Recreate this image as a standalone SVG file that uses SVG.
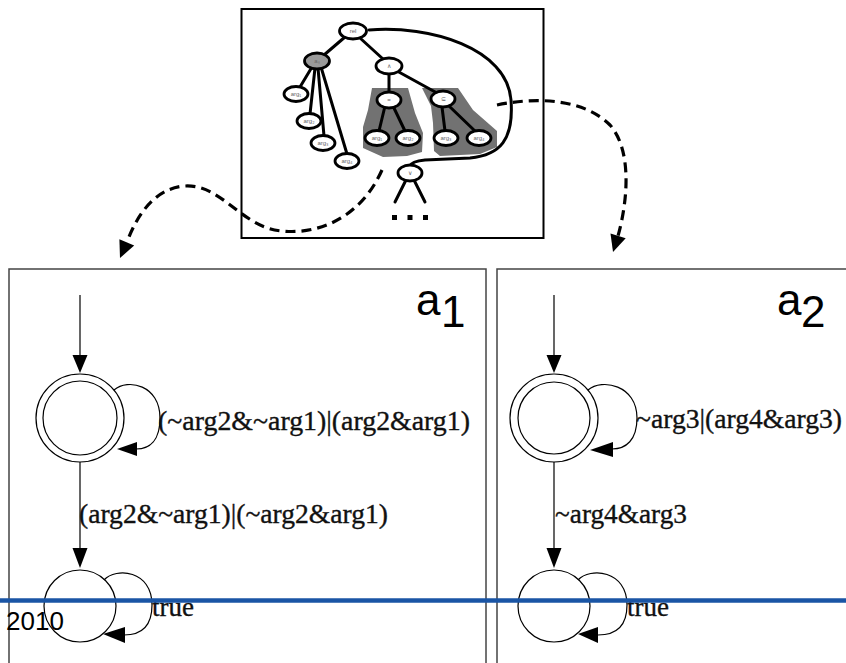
<svg xmlns="http://www.w3.org/2000/svg" width="846" height="663" viewBox="0 0 846 663">
  <style>
    .tree-edge { stroke: #000; stroke-width: 3; fill: none; stroke-linecap: round; }
    .tnode { fill: #fff; stroke: #000; stroke-width: 2.8; }
    .tnode-shade { fill: #9a9a9a; stroke: #000; stroke-width: 2.8; }
    .tlabel { font-family: "Liberation Sans", Arial, sans-serif; font-size: 6px; fill: #666; text-anchor: middle; }
    .shade { fill: #727272; }
    .dashed { stroke: #000; stroke-width: 3.2; fill: none; stroke-dasharray: 10 6; }
    .panel { fill: #fff; stroke: #444; stroke-width: 1.5; }
    .edge { stroke: #000; stroke-width: 1.2; fill: none; }
    .state { fill: #fff; stroke: #000; stroke-width: 1.2; }
    .elabel { font-family: "Liberation Serif", "Times New Roman", serif; font-size: 27px; fill: #111; stroke: #111; stroke-width: 0.35; }
    .title { font-family: "Liberation Sans", Arial, sans-serif; font-size: 44px; fill: #000; }
  </style>

  <rect width="846" height="663" fill="#fff"/>

  <!-- formula tree -->
  <g id="formula-tree">
    <rect x="241.5" y="9" width="302" height="229" fill="#fff" stroke="#000" stroke-width="2"/>
    <polygon class="shade" points="372,88 408,88 415,113 423,133 422,152 407,156 383,157 363,148 363,127 368,110"/>
    <polygon class="shade" points="422,88 458,88 473,110 497,131 497,147 480,154 440,156 434,151 433,123 431,106"/>
    <path class="tree-edge" d="M369,30 C430,25 507,48 511,100 C514,140 500,155 470,158 L425,160 C415,161 411,163 410,166"/>
    <line class="tree-edge" x1="345" y1="37" x2="324" y2="55"/>
    <line class="tree-edge" x1="360" y1="38" x2="383" y2="59"/>
    <line class="tree-edge" x1="312" y1="67" x2="300" y2="87"/>
    <line class="tree-edge" x1="315" y1="68" x2="310" y2="114"/>
    <line class="tree-edge" x1="318" y1="68" x2="324" y2="136"/>
    <line class="tree-edge" x1="321" y1="67" x2="347" y2="154"/>
    <line class="tree-edge" x1="389" y1="74" x2="389" y2="92"/>
    <line class="tree-edge" x1="397" y1="71" x2="437" y2="93"/>
    <line class="tree-edge" x1="385" y1="106" x2="379" y2="131"/>
    <line class="tree-edge" x1="393" y1="106" x2="405" y2="131"/>
    <line class="tree-edge" x1="442" y1="107" x2="445" y2="131"/>
    <line class="tree-edge" x1="449" y1="106" x2="475" y2="131"/>
    <line class="tree-edge" x1="406" y1="180" x2="395" y2="202"/>
    <line class="tree-edge" x1="414" y1="180" x2="425" y2="202"/>

    <ellipse class="tnode" cx="353" cy="31" rx="13.5" ry="8"/>
    <text class="tlabel" x="353" y="33">rel</text>
    <ellipse class="tnode-shade" cx="317" cy="61" rx="12.5" ry="8"/>
    <text class="tlabel" x="317" y="63" fill="#444">aₛ</text>
    <ellipse class="tnode" cx="389" cy="66" rx="13" ry="8"/>
    <text class="tlabel" x="389" y="68">∧</text>
    <ellipse class="tnode" cx="296" cy="94" rx="12" ry="7.5"/>
    <text class="tlabel" x="296" y="96">arg₁</text>
    <ellipse class="tnode" cx="309" cy="121" rx="12" ry="7.5"/>
    <text class="tlabel" x="309" y="123">arg₂</text>
    <ellipse class="tnode" cx="323" cy="143" rx="12" ry="7.5"/>
    <text class="tlabel" x="323" y="145">arg₃</text>
    <ellipse class="tnode" cx="347" cy="161" rx="12" ry="7.5"/>
    <text class="tlabel" x="347" y="163">arg₄</text>
    <ellipse class="tnode" cx="389" cy="100" rx="12" ry="8"/>
    <text class="tlabel" x="389" y="102">=</text>
    <ellipse class="tnode" cx="443" cy="99" rx="12" ry="8"/>
    <text class="tlabel" x="443" y="101" fill="#000">⊆</text>
    <ellipse class="tnode" cx="377" cy="138" rx="12" ry="7.5"/>
    <text class="tlabel" x="377" y="140">arg₁</text>
    <ellipse class="tnode" cx="408" cy="138" rx="12" ry="7.5"/>
    <text class="tlabel" x="408" y="140">arg₂</text>
    <ellipse class="tnode" cx="446" cy="138" rx="12" ry="7.5"/>
    <text class="tlabel" x="446" y="140">arg₃</text>
    <ellipse class="tnode" cx="479" cy="138" rx="12" ry="7.5"/>
    <text class="tlabel" x="479" y="140">arg₄</text>
    <ellipse class="tnode" cx="410" cy="173" rx="12" ry="8"/>
    <text class="tlabel" x="410" y="175">∨</text>
    <rect x="392" y="215" width="5" height="5" fill="#000"/>
    <rect x="407.5" y="215" width="5" height="5" fill="#000"/>
    <rect x="423" y="215" width="5" height="5" fill="#000"/>
  </g>

  <!-- automaton a1 -->
  <g id="automaton-a1">
    <rect class="panel" x="9" y="269" width="477" height="420"/>
    <text class="title" x="416" y="315">a</text>
    <text class="title" x="441" y="327">1</text>
    <line class="edge" x1="80" y1="295" x2="80" y2="356"/>
    <polygon points="72.5,355 87.5,355 80,373" fill="#000"/>
    <circle class="state" cx="80" cy="418" r="44"/>
    <circle class="state" cx="80" cy="418" r="37"/>
    <path class="edge" d="M114,390 C128,378 160,385 160,418 C160,440 150,449 136,449"/>
    <polygon points="137,442 137,456 117,449" fill="#000"/>
    <text class="elabel" x="158" y="430" textLength="312" lengthAdjust="spacingAndGlyphs">(~arg2&amp;~arg1)|(arg2&amp;arg1)</text>
    <line class="edge" x1="80" y1="462" x2="80" y2="550"/>
    <polygon points="72.5,548 87.5,548 80,568" fill="#000"/>
    <text class="elabel" x="79" y="523" textLength="309" lengthAdjust="spacingAndGlyphs">(arg2&amp;~arg1)|(~arg2&amp;arg1)</text>
    <circle class="state" cx="80" cy="606" r="36"/>
    <path class="edge" d="M104,580 C116,567 152,570 152,605 C152,628 140,635 124,635"/>
    <polygon points="125,627 125,643 103,634" fill="#000"/>
    <text class="elabel" x="152" y="616">true</text>
  </g>

  <!-- automaton a2 -->
  <g id="automaton-a2">
    <rect class="panel" x="497" y="269" width="360" height="420"/>
    <text class="title" x="777" y="315">a</text>
    <text class="title" x="801" y="327">2</text>
    <line class="edge" x1="554" y1="295" x2="554" y2="356"/>
    <polygon points="546.5,355 561.5,355 554,373" fill="#000"/>
    <circle class="state" cx="554" cy="418" r="44"/>
    <circle class="state" cx="554" cy="418" r="36"/>
    <path class="edge" d="M588,390 C602,378 637,385 637,418 C637,440 626,449 612,449"/>
    <polygon points="613,442 613,457 590,450" fill="#000"/>
    <text class="elabel" x="636" y="428" textLength="206" lengthAdjust="spacingAndGlyphs">~arg3|(arg4&amp;arg3)</text>
    <line class="edge" x1="554" y1="462" x2="554" y2="550"/>
    <polygon points="546.5,548 561.5,548 554,568" fill="#000"/>
    <text class="elabel" x="555" y="523" textLength="132" lengthAdjust="spacingAndGlyphs">~arg4&amp;arg3</text>
    <circle class="state" cx="554" cy="606" r="36"/>
    <path class="edge" d="M578,580 C590,567 627,570 627,605 C627,628 614,635 598,635"/>
    <polygon points="598,627 598,643 578,634" fill="#000"/>
    <text class="elabel" x="627" y="616">true</text>
  </g>

  <!-- dashed connectors from the tree to the automata -->
  <g id="connectors">
    <path class="dashed" d="M382,170 C362,215 322,235 282,231 C242,228 222,184 185,186 C155,188 137,215 127,242"/>
    <polygon points="134.2,245.6 119.4,239.2 120,258" fill="#000"/>
    <path class="dashed" d="M497,105 C540,96 585,100 610,125 C632,150 628,200 618,236"/>
    <polygon points="625.7,238.2 610.5,233.4 613,252" fill="#000"/>
  </g>

  <!-- footer rule and year -->
  <line x1="0" y1="600.5" x2="846" y2="600.5" stroke="#1a55a5" stroke-width="4.5"/>
  <text x="6" y="630" font-family="Liberation Sans, Arial, sans-serif" font-size="26" fill="#000">2010</text>
</svg>
